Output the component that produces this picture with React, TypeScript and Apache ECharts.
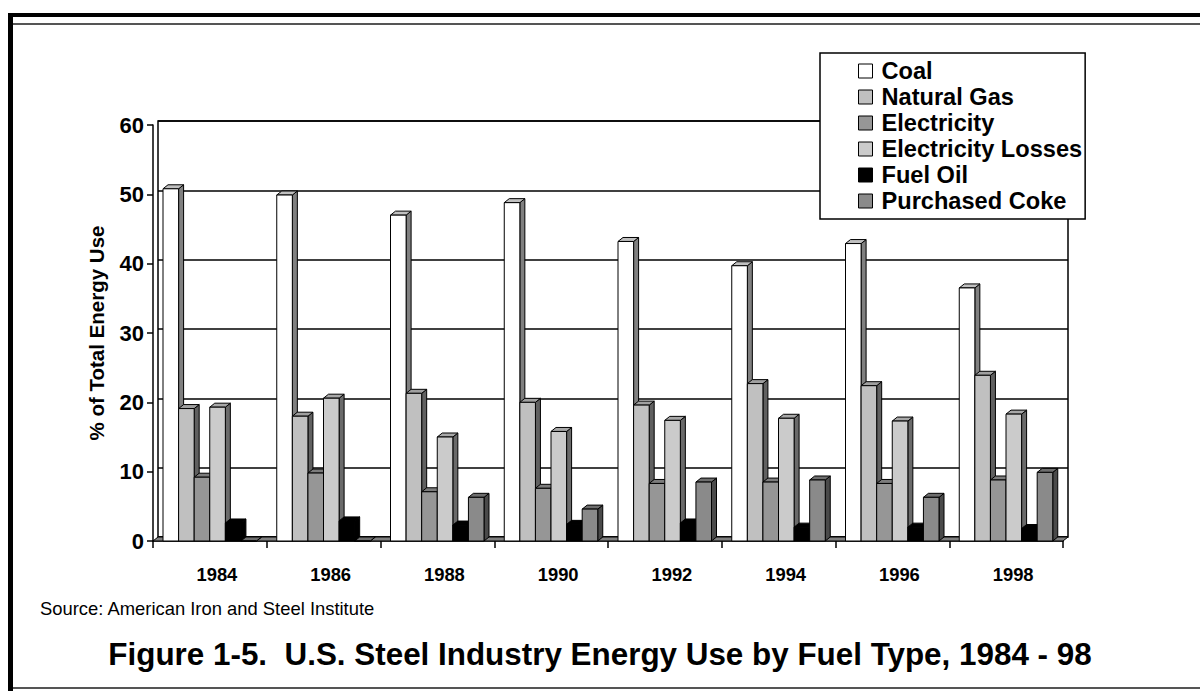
import React, { useEffect, useRef } from "react";
import * as echarts from "echarts";

const years = ["1984", "1986", "1988", "1990", "1992", "1994", "1996", "1998"];
const seriesNames = ["Coal", "Natural Gas", "Electricity", "Electricity Losses", "Fuel Oil", "Purchased Coke"];
const coal = [50.8, 49.9, 47.0, 48.8, 43.2, 39.7, 42.9, 36.5];
const naturalGas = [19.1, 18.0, 21.3, 20.0, 19.6, 22.7, 22.4, 23.9];
const electricity = [9.2, 9.8, 7.1, 7.6, 8.3, 8.5, 8.3, 8.8];
const electricityLosses = [19.3, 20.6, 15.0, 15.8, 17.4, 17.7, 17.3, 18.3];
const fuelOil = [2.6, 2.9, 2.3, 2.4, 2.6, 2.0, 2.0, 1.8];
const purchasedCoke = [0, 0, 6.3, 4.6, 8.5, 8.8, 6.3, 9.9];
const yMin = 0;
const yMax = 60;
const yInterval = 10;

const titleText = "Figure 1-5.  U.S. Steel Industry Energy Use by Fuel Type, 1984 - 98";
const sourceText = "Source: American Iron and Steel Institute";
const yAxisName = "% of Total Energy Use";

const FONT = "'Liberation Sans', Arial, Helvetica, sans-serif";
const DX = 5;
const DY = 4;

const palette = [
  { front: "#ffffff", top: "#c0c0c0", side: "#808080" },
  { front: "#c0c0c0", top: "#a0a0a0", side: "#606060" },
  { front: "#969696", top: "#7c7c7c", side: "#4d4d4d" },
  { front: "#cbcbcb", top: "#a8a8a8", side: "#6a6a6a" },
  { front: "#000000", top: "#000000", side: "#000000" },
  { front: "#8a8a8a", top: "#6e6e6e", side: "#4a4a4a" },
];

function barRender(idx: number) {
  return (params: any, api: any) => {
    const cat = api.value(0);
    const val = api.value(1);
    const base = api.coord([cat, 0]);
    const top = api.coord([cat, val]);
    const band = api.size([1, 0])[0];
    const bw = band * 0.137;
    const x0 = base[0] - band / 2 + band * 0.088 + idx * bw;
    const x1 = x0 + bw;
    const yb = base[1];
    const yt = top[1];
    const c = palette[idx];
    return {
      type: "group",
      children: [
        {
          type: "polygon",
          shape: { points: [[x1, yt], [x1 + DX, yt - DY], [x1 + DX, yb - DY], [x1, yb]] },
          style: { fill: c.side, stroke: "#000", lineWidth: 1 },
        },
        {
          type: "polygon",
          shape: { points: [[x0, yt], [x0 + DX, yt - DY], [x1 + DX, yt - DY], [x1, yt]] },
          style: { fill: c.top, stroke: "#000", lineWidth: 1 },
        },
        {
          type: "rect",
          shape: { x: x0, y: yt, width: bw, height: Math.max(yb - yt, 0) },
          style: { fill: c.front, stroke: "#000", lineWidth: 1 },
        },
      ],
    };
  };
}

function floorRender(params: any, api: any) {
  const cs = params.coordSys;
  const yb = cs.y + cs.height;
  const xl = cs.x;
  const xr = cs.x + cs.width;
  return {
    type: "polygon",
    shape: { points: [[xl, yb], [xr, yb], [xr + DX, yb - DY], [xl + DX, yb - DY]] },
    style: { fill: "#808080", stroke: "#000", lineWidth: 1 },
  };
}

export default function App() {
  const ref = useRef<HTMLDivElement>(null);
  useEffect(() => {
    document.body.style.margin = "0";
    if (!ref.current) return;
    const chart = echarts.init(ref.current, null, { renderer: "svg" });
    const values = [coal, naturalGas, electricity, electricityLosses, fuelOil, purchasedCoke];
    const barSeries = values.map((vals, idx) => ({
      type: "custom",
      name: seriesNames[idx],
      xAxisIndex: 0,
      yAxisIndex: 0,
      renderItem: barRender(idx),
      encode: { x: 0, y: 1 },
      itemStyle: { color: palette[idx].front, borderColor: "#000", borderWidth: 1 },
      data: vals.map((v, i) => [i, v]),
      z: 3,
    }));
    const option: any = {
      animation: false,
      backgroundColor: "#ffffff",
      textStyle: { fontFamily: FONT, color: "#000" },
      title: [
        {
          text: titleText,
          left: "center",
          top: 634,
          textStyle: { fontFamily: FONT, fontSize: 31.4, fontWeight: "bold", color: "#000" },
        },
        {
          text: sourceText,
          left: 35,
          top: 594,
          textStyle: { fontFamily: FONT, fontSize: 18.4, fontWeight: "normal", color: "#000" },
        },
      ],
      legend: {
        data: seriesNames,
        orient: "vertical",
        left: 820,
        top: 53,
        backgroundColor: "#ffffff",
        borderColor: "#000",
        borderWidth: 1.5,
        borderRadius: 0,
        padding: [6, 3, 6, 38],
        itemWidth: 14,
        itemHeight: 14,
        itemGap: 2,
        icon: "rect",
        itemStyle: { borderColor: "#000", borderWidth: 1 },
        textStyle: { fontFamily: FONT, fontSize: 23.6, fontWeight: "bold", color: "#000", lineHeight: 24, padding: [0, 0, 0, 4] },
        selectedMode: false,
        z: 10,
      },
      grid: [
        { left: 153, right: 137, top: 125, bottom: 151, containLabel: false },
        { left: 158, right: 132, top: 121, bottom: 155, show: true, borderColor: "#000", borderWidth: 1.5, backgroundColor: "transparent" },
      ],
      xAxis: [
        {
          type: "category",
          gridIndex: 0,
          data: years,
          axisLine: { show: true, lineStyle: { color: "#000", width: 1.5 } },
          axisTick: { show: true, length: 7, alignWithLabel: false, lineStyle: { color: "#000", width: 1.5 } },
          axisLabel: { fontFamily: FONT, fontSize: 18.4, fontWeight: "bold", color: "#000", margin: 24, padding: [0, 0, 0, 14] },
          splitLine: { show: false },
        },
        {
          type: "category",
          gridIndex: 1,
          data: years,
          show: false,
        },
      ],
      yAxis: [
        {
          type: "value",
          gridIndex: 0,
          min: yMin,
          max: yMax,
          interval: yInterval,
          name: yAxisName,
          nameLocation: "middle",
          nameRotate: 90,
          nameGap: 46,
          nameTextStyle: { fontFamily: FONT, fontSize: 20.5, fontWeight: "bold", color: "#000" },
          axisLine: { show: true, lineStyle: { color: "#000", width: 1.5 } },
          axisTick: { show: true, length: 6, lineStyle: { color: "#000", width: 1.5 } },
          axisLabel: { fontFamily: FONT, fontSize: 22, fontWeight: "bold", color: "#000", margin: 9 },
          splitLine: { show: false },
        },
        {
          type: "value",
          gridIndex: 1,
          min: yMin,
          max: yMax,
          interval: yInterval,
          axisLine: { show: false },
          axisTick: { show: false },
          axisLabel: { show: false },
          splitLine: { show: true, lineStyle: { color: "#000", width: 1.5 } },
        },
      ],
      series: [
        {
          type: "custom",
          name: "floor",
          xAxisIndex: 0,
          yAxisIndex: 0,
          renderItem: floorRender,
          data: [[0, 0]],
          encode: { x: 0, y: 1 },
          silent: true,
          z: 2,
        },
        ...barSeries,
      ],
      graphic: [
        { type: "rect", shape: { x: 8, y: 13, width: 1192, height: 4 }, style: { fill: "#000" }, silent: true },
        { type: "rect", shape: { x: 13, y: 23, width: 1187, height: 2 }, style: { fill: "#555" }, silent: true },
        { type: "rect", shape: { x: 8, y: 13, width: 5, height: 678 }, style: { fill: "#000" }, silent: true },
        { type: "rect", shape: { x: 13, y: 687, width: 1187, height: 2 }, style: { fill: "#555" }, silent: true },
      ],
    };
    chart.setOption(option);
    return () => chart.dispose();
  }, []);
  return <div ref={ref} style={{ width: 1200, height: 692 }} />;
}
